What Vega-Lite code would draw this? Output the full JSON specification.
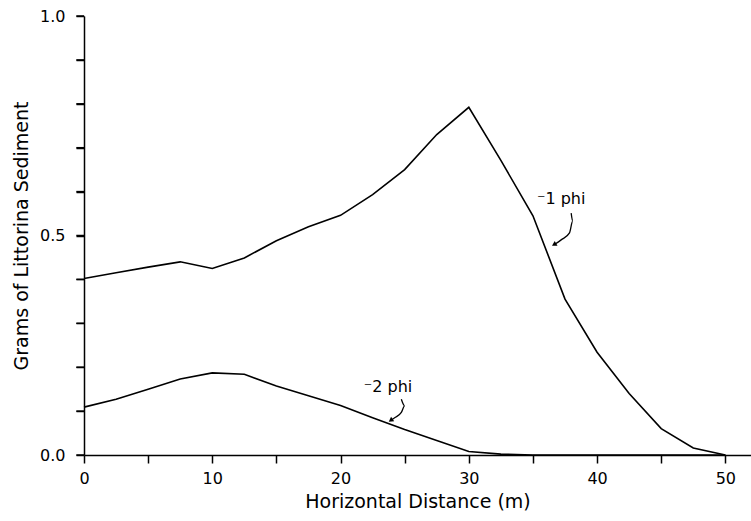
{
  "$schema": "https://vega.github.io/schema/vega-lite/v6.json",
  "width": 667,
  "height": 439,
  "autosize": {"type": "none"},
  "padding": {"left": 84, "top": 16, "right": 0, "bottom": 66},
  "background": "white",
  "config": {
    "view": {"stroke": null},
    "font": "DejaVu Sans",
    "axis": {
      "grid": false,
      "domainColor": "black",
      "domainWidth": 1.5,
      "tickColor": "black",
      "tickWidth": 1.5,
      "labelColor": "black",
      "titleColor": "black",
      "labelFont": "DejaVu Sans",
      "titleFont": "DejaVu Sans",
      "titleFontWeight": "normal",
      "labelFontSize": 16,
      "titleFontSize": 19
    }
  },
  "datasets": {
    "curves": [
      {"dist": 0, "grams": 0.402, "series": "-1 phi"},
      {"dist": 2.5, "grams": 0.415, "series": "-1 phi"},
      {"dist": 5, "grams": 0.428, "series": "-1 phi"},
      {"dist": 7.5, "grams": 0.440, "series": "-1 phi"},
      {"dist": 10, "grams": 0.425, "series": "-1 phi"},
      {"dist": 12.5, "grams": 0.449, "series": "-1 phi"},
      {"dist": 15, "grams": 0.488, "series": "-1 phi"},
      {"dist": 17.5, "grams": 0.520, "series": "-1 phi"},
      {"dist": 20, "grams": 0.546, "series": "-1 phi"},
      {"dist": 22.5, "grams": 0.593, "series": "-1 phi"},
      {"dist": 25, "grams": 0.650, "series": "-1 phi"},
      {"dist": 27.5, "grams": 0.730, "series": "-1 phi"},
      {"dist": 30, "grams": 0.792, "series": "-1 phi"},
      {"dist": 32.5, "grams": 0.671, "series": "-1 phi"},
      {"dist": 35, "grams": 0.545, "series": "-1 phi"},
      {"dist": 37.5, "grams": 0.355, "series": "-1 phi"},
      {"dist": 40, "grams": 0.234, "series": "-1 phi"},
      {"dist": 42.5, "grams": 0.140, "series": "-1 phi"},
      {"dist": 45, "grams": 0.060, "series": "-1 phi"},
      {"dist": 47.5, "grams": 0.016, "series": "-1 phi"},
      {"dist": 50, "grams": 0.0, "series": "-1 phi"},
      {"dist": 0, "grams": 0.109, "series": "-2 phi"},
      {"dist": 2.5, "grams": 0.127, "series": "-2 phi"},
      {"dist": 5, "grams": 0.150, "series": "-2 phi"},
      {"dist": 7.5, "grams": 0.173, "series": "-2 phi"},
      {"dist": 10, "grams": 0.187, "series": "-2 phi"},
      {"dist": 12.5, "grams": 0.184, "series": "-2 phi"},
      {"dist": 15, "grams": 0.157, "series": "-2 phi"},
      {"dist": 17.5, "grams": 0.135, "series": "-2 phi"},
      {"dist": 20, "grams": 0.113, "series": "-2 phi"},
      {"dist": 22.5, "grams": 0.085, "series": "-2 phi"},
      {"dist": 25, "grams": 0.058, "series": "-2 phi"},
      {"dist": 27.5, "grams": 0.033, "series": "-2 phi"},
      {"dist": 30, "grams": 0.008, "series": "-2 phi"},
      {"dist": 32.5, "grams": 0.002, "series": "-2 phi"},
      {"dist": 35, "grams": 0.0, "series": "-2 phi"},
      {"dist": 40, "grams": 0.0, "series": "-2 phi"},
      {"dist": 45, "grams": 0.0, "series": "-2 phi"},
      {"dist": 50, "grams": 0.0, "series": "-2 phi"}
    ],
    "yticks": [
      {"tick": 0, "x0": -0.6, "x1": 0},
      {"tick": 0.1, "x0": -0.6, "x1": 0},
      {"tick": 0.2, "x0": -0.6, "x1": 0},
      {"tick": 0.3, "x0": -0.6, "x1": 0},
      {"tick": 0.4, "x0": -0.6, "x1": 0},
      {"tick": 0.5, "x0": -0.6, "x1": 0},
      {"tick": 0.6, "x0": -0.6, "x1": 0},
      {"tick": 0.7, "x0": -0.6, "x1": 0},
      {"tick": 0.8, "x0": -0.6, "x1": 0},
      {"tick": 0.9, "x0": -0.6, "x1": 0},
      {"tick": 1, "x0": -0.6, "x1": 0}
    ],
    "labels": [
      {"dist": 37.2, "grams": 0.584, "text": "⁻1 phi"},
      {"dist": 23.7, "grams": 0.156, "text": "⁻2 phi"}
    ],
    "arrows": [
      {"arrow": "a1", "step": 1, "dist": 37.98, "grams": 0.551},
      {"arrow": "a1", "step": 2, "dist": 38.1, "grams": 0.533},
      {"arrow": "a1", "step": 3, "dist": 37.85, "grams": 0.506},
      {"arrow": "a1", "step": 4, "dist": 37.2, "grams": 0.490},
      {"arrow": "a1", "step": 5, "dist": 36.7, "grams": 0.480},
      {"arrow": "a2", "step": 1, "dist": 24.74, "grams": 0.127},
      {"arrow": "a2", "step": 2, "dist": 25.0, "grams": 0.112},
      {"arrow": "a2", "step": 3, "dist": 24.74, "grams": 0.097},
      {"arrow": "a2", "step": 4, "dist": 24.22, "grams": 0.085},
      {"arrow": "a2", "step": 5, "dist": 23.96, "grams": 0.080}
    ],
    "heads": [
      {"dist": 36.7, "grams": 0.480, "angle": 240},
      {"dist": 23.96, "grams": 0.080, "angle": 235}
    ]
  },
  "layer": [
    {
      "data": {"name": "curves"},
      "mark": {"type": "line", "color": "black", "strokeWidth": 1.6},
      "encoding": {
        "x": {
          "field": "dist", "type": "quantitative",
          "scale": {"domain": [0, 52], "nice": false, "zero": false},
          "axis": {
            "title": "Horizontal Distance (m)",
            "values": [0, 2.5, 5, 7.5, 10, 12.5, 15, 17.5, 20, 22.5, 25, 27.5, 30, 32.5, 35, 37.5, 40, 42.5, 45, 47.5, 50],
            "labelExpr": "datum.value % 10 == 0 ? format(datum.value, 'd') : ''",
            "tickSize": 8,
            "labelPadding": 7,
            "titlePadding": 6,
            "labelFlush": false
          }
        },
        "y": {
          "field": "grams", "type": "quantitative",
          "scale": {"domain": [0, 1], "nice": false},
          "axis": {
            "title": "Grams of Littorina Sediment",
            "values": [0, 0.1, 0.2, 0.3, 0.4, 0.5, 0.6, 0.7, 0.8, 0.9, 1],
            "labelExpr": "datum.value == 0 || datum.value == 0.5 || datum.value == 1 ? format(datum.value, '.1f') : ''",
            "tickSize": 8,
            "labelPadding": 11,
            "titlePadding": 8,
            "labelFlush": false
          }
        },
        "detail": {"field": "series", "type": "nominal"}
      }
    },
    {
      "data": {"name": "yticks"},
      "mark": {"type": "rule", "color": "black", "strokeWidth": 1.5, "clip": false},
      "encoding": {
        "x": {"field": "x0", "type": "quantitative"},
        "x2": {"field": "x1"},
        "y": {"field": "tick", "type": "quantitative"}
      }
    },
    {
      "data": {"name": "arrows"},
      "mark": {"type": "line", "color": "black", "strokeWidth": 1.3, "interpolate": "monotone"},
      "encoding": {
        "x": {"field": "dist", "type": "quantitative"},
        "y": {"field": "grams", "type": "quantitative"},
        "detail": {"field": "arrow", "type": "nominal"},
        "order": {"field": "step", "type": "quantitative"}
      }
    },
    {
      "data": {"name": "heads"},
      "mark": {"type": "point", "shape": "triangle", "filled": true, "color": "black", "size": 30, "opacity": 1},
      "encoding": {
        "x": {"field": "dist", "type": "quantitative"},
        "y": {"field": "grams", "type": "quantitative"},
        "angle": {"field": "angle", "type": "quantitative", "scale": null}
      }
    },
    {
      "data": {"name": "labels"},
      "mark": {"type": "text", "color": "black", "fontSize": 16, "font": "DejaVu Sans", "align": "center", "baseline": "middle"},
      "encoding": {
        "x": {"field": "dist", "type": "quantitative"},
        "y": {"field": "grams", "type": "quantitative"},
        "text": {"field": "text", "type": "nominal"}
      }
    }
  ]
}
